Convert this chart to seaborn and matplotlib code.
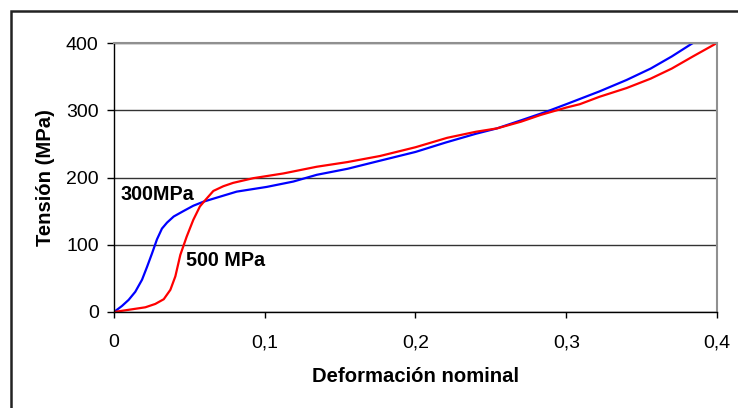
import matplotlib
matplotlib.use('Agg')
import matplotlib.pyplot as plt
import matplotlib.patches as patches
import pandas as pd
import seaborn as sns

# curva 300MPa (azul)
strain_300 = [0.000, 0.0053, 0.0097, 0.0141, 0.0186, 0.0219, 0.0252, 0.0285, 0.0318, 0.0352,
              0.0396, 0.046, 0.0526, 0.0593, 0.0681, 0.0814, 0.1013, 0.119, 0.1345, 0.155,
              0.1765, 0.200, 0.220, 0.240, 0.254, 0.270, 0.287, 0.300, 0.322, 0.340,
              0.356, 0.370, 0.384]
stress_300 = [0, 9, 18, 30, 48, 67, 87, 108, 124, 133,
              142, 150, 158, 164, 170, 179, 186, 194, 204, 213,
              225, 238, 252, 265, 273, 285, 298, 309, 328, 345,
              362, 380, 400]

# curva 500 MPa (roja)
strain_500 = [0.000, 0.0119, 0.0208, 0.0274, 0.033, 0.0374, 0.0407, 0.044, 0.0482, 0.0526,
              0.057, 0.0604, 0.0659, 0.0725, 0.079, 0.0924, 0.1123, 0.1345, 0.155, 0.1765,
              0.200, 0.221, 0.240, 0.254, 0.270, 0.283, 0.300, 0.309, 0.322, 0.340,
              0.356, 0.370, 0.384, 0.400]
stress_500 = [0, 4, 7, 12, 19, 33, 53, 85, 112, 137,
              157, 166, 180, 187, 192, 199, 206, 216, 223, 232,
              245, 259, 268, 273, 283, 293, 304, 309, 320, 333,
              347, 362, 380, 400]

series_names = ['300MPa', '500 MPa']
series_colors = ['#0000FF', '#FF0000']

x_ticks = [0, 0.1, 0.2, 0.3, 0.4]
x_tick_labels = ['0', '0,1', '0,2', '0,3', '0,4']
y_ticks = [0, 100, 200, 300, 400]

df = pd.concat([
    pd.DataFrame({'strain': strain_300, 'stress': stress_300, 'serie': series_names[0]}),
    pd.DataFrame({'strain': strain_500, 'stress': stress_500, 'serie': series_names[1]}),
], ignore_index=True)

sns.set_style('white')
plt.rcParams['font.family'] = ['Liberation Sans', 'DejaVu Sans']
plt.rcParams['text.color'] = 'black'
plt.rcParams['axes.labelcolor'] = 'black'

fig = plt.figure(figsize=(7.38, 4.08), dpi=100)
ax = fig.add_axes([114 / 738, 1 - 312 / 408, 603 / 738, 269 / 408])

sns.lineplot(data=df, x='strain', y='stress', hue='serie', palette=series_colors,
             hue_order=series_names, sort=False, linewidth=1.6, legend=False, ax=ax)

ax.set_xlim(0, 0.4)
ax.set_ylim(0, 400)
ax.set_xticks(x_ticks)
ax.set_xticklabels(x_tick_labels)
ax.set_yticks(y_ticks)
ax.yaxis.grid(True, color='#333333', linewidth=1.0)
ax.set_axisbelow(True)

for side in ['left', 'bottom']:
    ax.spines[side].set_color('black')
    ax.spines[side].set_linewidth(1.0)
for side in ['top', 'right']:
    ax.spines[side].set_color('#909090')
    ax.spines[side].set_linewidth(1.5)

ax.tick_params(axis='x', direction='out', length=4, width=1, pad=12, labelsize=14, colors='black', bottom=True)
ax.tick_params(axis='y', direction='out', length=5, width=1, pad=6, labelsize=14, colors='black', left=True)

ax.set_xlabel('Deformación nominal', fontsize=14.6, fontweight='bold', labelpad=11)
ax.set_ylabel('Tensión (MPa)', fontsize=14.6, fontweight='bold', labelpad=8)

ax.text(0.004, 174, series_names[0], fontsize=14.2, fontweight='bold', ha='left', va='center')
ax.text(0.048, 77, series_names[1], fontsize=14.2, fontweight='bold', ha='left', va='center')

# marco del grafico (recortado a la derecha y abajo)
fig.patches.append(patches.Rectangle((11 / 738, -0.2), 1.2, 1.2 - 11 / 408,
                                     transform=fig.transFigure, fill=False,
                                     edgecolor='#222222', linewidth=1.8))

fig.savefig('out.png', dpi=100)
